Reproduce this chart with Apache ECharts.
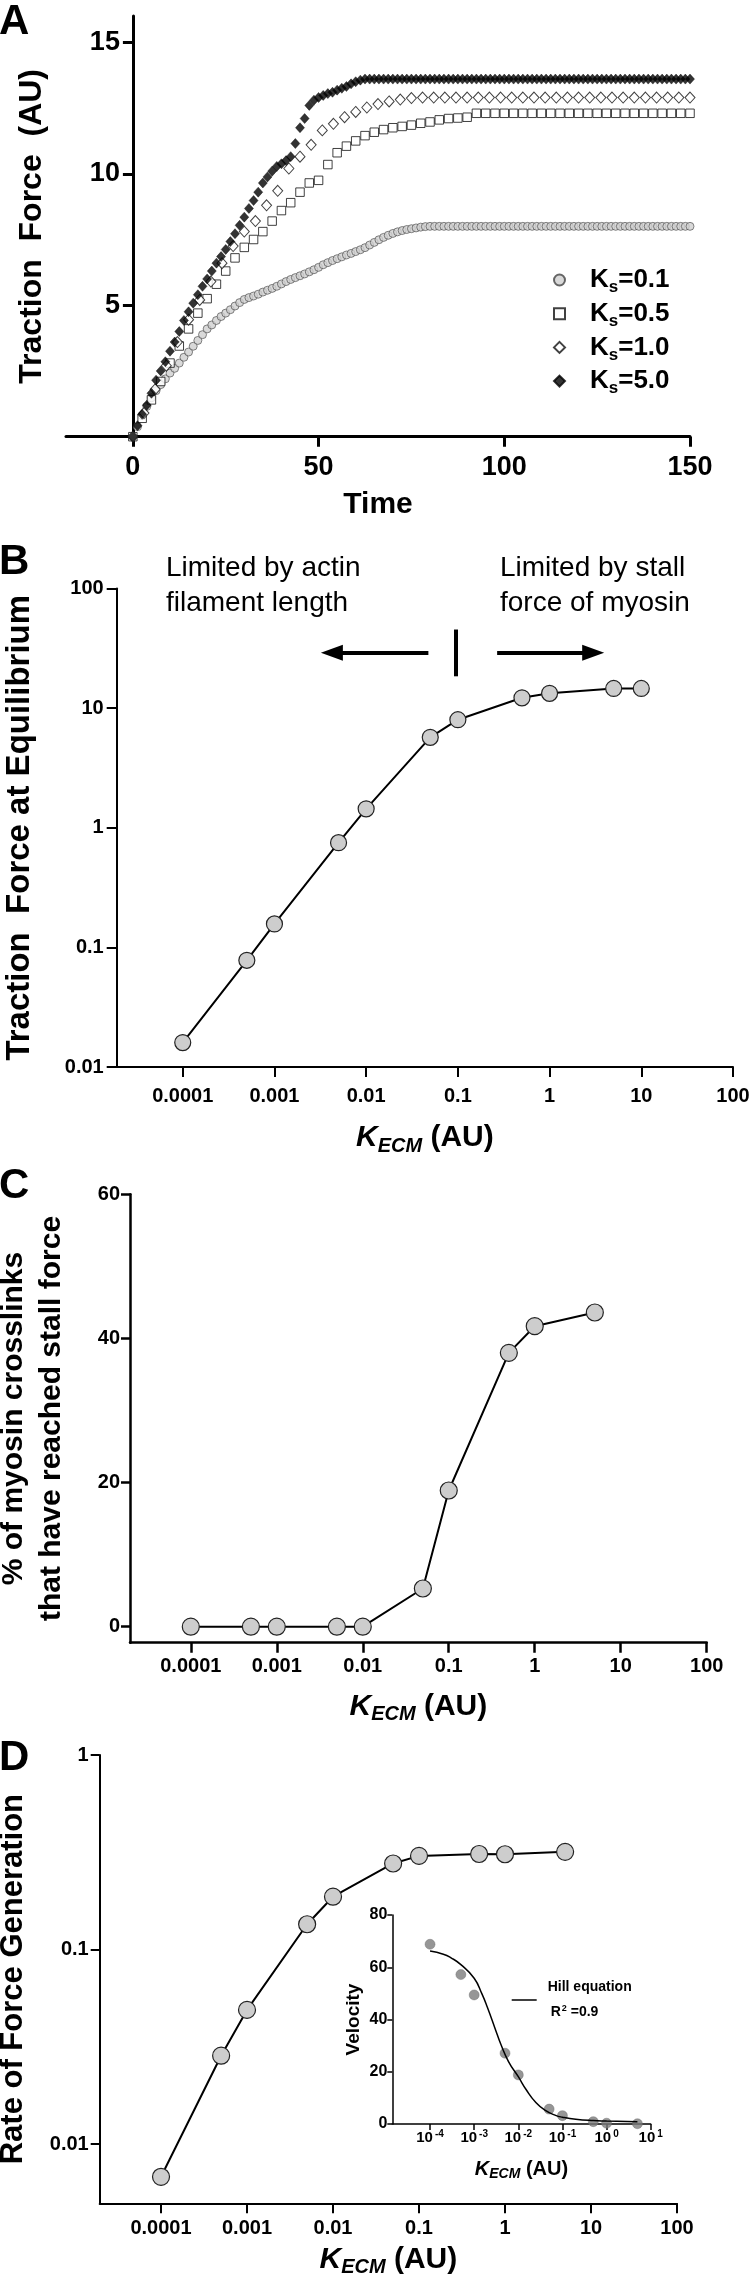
<!DOCTYPE html>
<html>
<head>
<meta charset="utf-8">
<title>Traction force figure</title>
<script src="https://cdn.jsdelivr.net/npm/echarts@6.0.0/dist/echarts.min.js"></script>
<style>
html,body{margin:0;padding:0;background:#fff;}
#chart{width:752px;height:2283px;}
</style>
</head>
<body>
<div id="chart"></div>
<script>
// ---------------- Panel A: traction force vs time ----------------
const timeStep125 = [0,1.25,2.5,3.75,5,6.25,7.5,8.75,10,11.25,12.5,13.75,15,16.25,17.5,18.75,20,21.25,22.5,23.75,25,26.25,27.5,28.75,30,31.25,32.5,33.75,35,36.25,37.5,38.75,40,41.25,42.5,43.75,45,46.25,47.5,48.75,50,51.25,52.5,53.75,55,56.25,57.5,58.75,60,61.25,62.5,63.75,65,66.25,67.5,68.75,70,71.25,72.5,73.75,75,76.25,77.5,78.75,80,81.25,82.5,83.75,85,86.25,87.5,88.75,90,91.25,92.5,93.75,95,96.25,97.5,98.75,100,101.25,102.5,103.75,105,106.25,107.5,108.75,110,111.25,112.5,113.75,115,116.25,117.5,118.75,120,121.25,122.5,123.75,125,126.25,127.5,128.75,130,131.25,132.5,133.75,135,136.25,137.5,138.75,140,141.25,142.5,143.75,145,146.25,147.5,148.75,150];
const timeStep25 = [0,2.5,5,7.5,10,12.5,15,17.5,20,22.5,25,27.5,30,32.5,35,37.5,40,42.5,45,47.5,50,52.5,55,57.5,60,62.5,65,67.5,70,72.5,75,77.5,80,82.5,85,87.5,90,92.5,95,97.5,100,102.5,105,107.5,110,112.5,115,117.5,120,122.5,125,127.5,130,132.5,135,137.5,140,142.5,145,147.5,150];
const timeStep3 = [0,3,6,9,12,15,18,21,24,27,30,33,36,39,42,45,48,51,54,57,60,63,66,69,72,75,78,81,84,87,90,93,96,99,102,105,108,111,114,117,120,123,126,129,132,135,138,141,144,147,150];

const forceKs01 = [0,0.38,0.8,1.15,1.48,1.75,1.98,2.2,2.42,2.6,2.8,3.02,3.22,3.44,3.66,3.88,4.1,4.25,4.42,4.57,4.7,4.83,4.97,5.1,5.22,5.29,5.35,5.42,5.5,5.57,5.64,5.72,5.81,5.9,5.98,6.05,6.12,6.19,6.27,6.35,6.44,6.54,6.62,6.7,6.77,6.84,6.91,6.97,7.04,7.11,7.19,7.29,7.39,7.49,7.58,7.66,7.73,7.79,7.84,7.88,7.91,7.94,7.97,7.99,
  8,8,8,8,8,8,8,8,8,8,8,8,8,8,8,8,8,8,8,8,8,8,8,8,8,8,8,8,8,8,8,8,8,8,8,8,8,8,8,8,8,8,8,8,8,8,8,8,8,8,8,8,8,8,8,8,8];
const forceKs05 = [0,0.7,1.4,2.1,2.8,3.45,4.1,4.7,5.25,5.8,6.3,6.8,7.2,7.5,7.8,8.2,8.6,8.9,9.3,9.65,9.75,10.35,10.8,11.05,11.25,11.45,11.58,11.68,11.75,11.8,11.85,11.92,11.97,12.05,12.1,12.12,12.15,
  12.3,12.3,12.3,12.3,12.3,12.3,12.3,12.3,12.3,12.3,12.3,12.3,
  12.3,12.3,12.3,12.3,12.3,12.3,12.3,12.3,12.3,12.3,12.3,12.3];
const forceKs10 = [0,0.9,1.8,2.7,3.6,4.45,5.2,5.9,6.6,7.25,7.8,8.2,8.8,9.35,10.2,10.65,11.1,11.65,11.9,12.15,12.35,12.52,12.65,12.75,12.82,12.88,
  12.9,12.9,12.9,12.9,12.9,12.9,12.9,12.9,12.9,12.9,12.9,12.9,12.9,
  12.9,12.9,12.9,12.9,12.9,12.9,12.9,12.9,12.9,12.9,12.9,12.9];
const forceKs50 = [0,0.42,0.85,1.2,1.65,2.15,2.5,2.85,3.25,3.6,4.0,4.42,4.75,5.08,5.4,5.72,6.0,6.3,6.6,6.85,7.12,7.42,7.72,8.04,8.35,8.68,8.98,9.3,9.65,9.88,10.1,10.28,10.38,10.5,10.65,11.15,11.75,12.1,12.6,12.8,12.9,12.98,13.05,13.1,13.18,13.25,13.32,13.42,13.5,13.56,13.6,
  13.6,13.6,13.6,13.6,13.6,13.6,13.6,13.6,13.6,13.6,
  13.6,13.6,13.6,13.6,13.6,13.6,13.6,13.6,13.6,13.6,
  13.6,13.6,13.6,13.6,13.6,13.6,13.6,13.6,13.6,13.6,
  13.6,13.6,13.6,13.6,13.6,13.6,13.6,13.6,13.6,13.6,
  13.6,13.6,13.6,13.6,13.6,13.6,13.6,13.6,13.6,13.6,
  13.6,13.6,13.6,13.6,13.6,13.6,13.6,13.6,13.6,13.6,
  13.6,13.6,13.6,13.6,13.6,13.6,13.6,13.6,13.6,13.6];
const seriesNamesA = ['Ks=0.1','Ks=0.5','Ks=1.0','Ks=5.0'];
const ticksTime = [0,50,100,150];
const ticksForceA = [5,10,15];

// ---------------- Panel B: force at equilibrium ----------------
const kecmB = [0.0001,0.0005,0.001,0.005,0.01,0.05,0.1,0.5,1,5,10];
const forceEqB = [0.016,0.078,0.157,0.75,1.44,5.7,8.0,12.2,13.3,14.6,14.6];
const ticksKecm = [0.0001,0.001,0.01,0.1,1,10,100];
const ticksForceB = [0.01,0.1,1,10,100];

// ---------------- Panel C: % crosslinks at stall ----------------
const kecmC = [0.0001,0.0005,0.001,0.005,0.01,0.05,0.1,0.5,1,5];
const stallPctC = [0,0,0,0,0,5.3,18.9,38,41.7,43.6];
const ticksPctC = [0,20,40,60];

// ---------------- Panel D: rate of force generation ----------------
const kecmD = [0.0001,0.0005,0.001,0.005,0.01,0.05,0.1,0.5,1,5];
const rateD = [0.0068,0.0285,0.049,0.135,0.187,0.277,0.303,0.31,0.309,0.318];
const ticksRateD = [0.01,0.1,1];

// ---------------- Panel D inset: velocity ----------------
const kecmInset = [0.0001,0.0005,0.001,0.005,0.01,0.05,0.1,0.5,1,5];
const velocityInset = [68.8,57.2,49.4,27.1,18.8,5.7,3.2,0.9,0.3,0.1];
const kecmHill = [0.0001,0.0002,0.0003,0.0005,0.001,0.0015,0.002,0.003,0.004,0.006,0.01,0.015,0.025,0.04,0.07,0.1,0.2,0.5,1,5];
const velocityHill = [66.2,65.0,63.6,61.0,55.8,49.8,44.6,36.4,30.6,23.9,18.1,13.2,8.2,5.3,3.3,2.6,1.8,1.3,1.15,0.9];
const ticksKecmInset = [0.0001,0.001,0.01,0.1,1,10];

// ---------------- helpers ----------------
const FONT = "'Liberation Sans', Arial, Helvetica, sans-serif";
const BLACK = '#000';
const pairs = (xs, ys) => xs.map((x, i) => [x, ys[i]]);
function decimalLabel(v) {
  const e = Math.round(Math.log10(v));
  return e < 0 ? Math.pow(10, e).toFixed(-e) : String(Math.round(Math.pow(10, e)));
}
function powerLabel(v) {
  const e = Math.round(Math.log10(v));
  return '{b|10}{s|' + e + '}';
}
function kecmRich(big, small, lh) {
  return {
    k: {fontSize: big, fontWeight: 'bold', fontStyle: 'italic', lineHeight: lh, fontFamily: FONT, color: BLACK},
    e: {fontSize: small, fontWeight: 'bold', fontStyle: 'italic', lineHeight: small, verticalAlign: 'bottom', fontFamily: FONT, color: BLACK},
    u: {fontSize: big, fontWeight: 'bold', lineHeight: lh, fontFamily: FONT, color: BLACK}
  };
}
const KECM_NAME = '{k|K}{e|ECM}{u| (AU)}';
function axis(o) {
  const lw = o.lineWidth, tl = o.tickLen;
  const a = {
    gridIndex: o.grid, type: o.type, min: o.min, max: o.max,
    name: o.name, nameLocation: 'middle', nameGap: o.nameGap, nameMoveOverlap: false,
    nameTextStyle: o.nameTextStyle,
    axisLine: {show: true, onZero: false, lineStyle: {color: BLACK, width: lw}},
    axisTick: {show: true, length: tl, lineStyle: {color: BLACK, width: lw}},
    axisLabel: {color: BLACK, fontSize: o.fontSize, fontWeight: 'bold', fontFamily: FONT, margin: o.margin, lineHeight: o.fontSize},
    splitLine: {show: false}, minorTick: {show: false}
  };
  if (o.offset !== undefined) a.offset = o.offset;
  if (o.type === 'log') a.logBase = 10;
  if (o.ticks) { a.axisTick.customValues = o.ticks; a.axisLabel.customValues = o.ticks; }
  if (o.interval) a.interval = o.interval;
  if (o.formatter) a.axisLabel.formatter = o.formatter;
  if (o.rich) a.axisLabel.rich = o.rich;
  return a;
}
const boldName = (size, lh) => ({fontSize: size, fontWeight: 'bold', color: BLACK, fontFamily: FONT, lineHeight: lh || size});
const roundMarker = {color: '#cdcdcd', borderColor: '#222', borderWidth: 1.2};

const chart = echarts.init(document.getElementById('chart'), null, {renderer: 'canvas', width: 752, height: 2283});

const option = {
  animation: false,
  backgroundColor: '#fff',
  textStyle: {fontFamily: FONT, color: BLACK},
  grid: [
    {left: 66, right: 62, top: 16, height: 420.7, containLabel: false, outerBoundsMode: 'none'},
    {left: 116.7, right: 19, top: 588.5, height: 478.5, containLabel: false, outerBoundsMode: 'none'},
    {left: 130, right: 45.3, top: 1194.3, height: 448.4, containLabel: false, outerBoundsMode: 'none'},
    {left: 99.7, right: 75, top: 1755, height: 448.3, containLabel: false, outerBoundsMode: 'none'},
    {left: 392.3, right: 101.3, top: 1915, height: 209, containLabel: false, outerBoundsMode: 'none'}
  ],
  xAxis: [
    axis({grid: 0, type: 'value', min: -18, max: 150, ticks: ticksTime, lineWidth: 3, tickLen: 10, fontSize: 27, margin: 17,
      name: 'Time', nameGap: 53, nameTextStyle: boldName(30, 30)}),
    axis({grid: 1, type: 'log', min: Math.pow(10, -4.72), max: 100, ticks: ticksKecm, lineWidth: 2, tickLen: 10, fontSize: 20, margin: 19,
      formatter: decimalLabel, name: KECM_NAME, nameGap: 53, nameTextStyle: {rich: kecmRich(30, 20, 36)}}),
    axis({grid: 2, type: 'log', min: Math.pow(10, -4.707), max: 100, ticks: ticksKecm, lineWidth: 2.5, tickLen: 10, fontSize: 20, margin: 14,
      formatter: decimalLabel, name: KECM_NAME, nameGap: 46, nameTextStyle: {rich: kecmRich(30, 20, 36)}}),
    axis({grid: 3, type: 'log', min: Math.pow(10, -4.713), max: 100, ticks: ticksKecm, lineWidth: 2, tickLen: 10, fontSize: 20, margin: 15,
      formatter: decimalLabel, name: KECM_NAME, nameGap: 38, nameTextStyle: {rich: kecmRich(30, 20, 36)}}),
    axis({grid: 4, type: 'log', min: Math.pow(10, -4.855), max: 10, ticks: ticksKecmInset, lineWidth: 1.5, tickLen: 6, fontSize: 15, margin: 5,
      formatter: powerLabel,
      rich: {b: {fontSize: 15, fontWeight: 'bold', lineHeight: 18, fontFamily: FONT, color: BLACK},
             s: {fontSize: 10, fontWeight: 'bold', lineHeight: 10, verticalAlign: 'top', fontFamily: FONT, color: BLACK, padding: [0, 0, 0, 2]}},
      name: KECM_NAME, nameGap: 33, nameTextStyle: {rich: kecmRich(20, 14, 24)}})
  ],
  yAxis: [
    // y axis of panel A sits on time = 0, i.e. 18 time units (66.9 px) inside the grid's left edge
    axis({grid: 0, type: 'value', min: 0, max: 16, ticks: ticksForceA, offset: -66.9, lineWidth: 3, tickLen: 10, fontSize: 27, margin: 13,
      name: 'Traction  Force  (AU)', nameGap: 85, nameTextStyle: boldName(32)}),
    axis({grid: 1, type: 'log', min: 0.01, max: 100, ticks: ticksForceB, lineWidth: 2, tickLen: 10, fontSize: 20, margin: 13,
      formatter: decimalLabel, name: 'Traction  Force at Equilibrium', nameGap: 80, nameTextStyle: boldName(33)}),
    axis({grid: 2, type: 'value', min: -2.22, max: 60, ticks: ticksPctC, lineWidth: 2.5, tickLen: 9, fontSize: 20, margin: 10,
      name: '% of myosin crosslinks\nthat have reached stall force', nameGap: 59, nameTextStyle: boldName(30, 38)}),
    axis({grid: 3, type: 'log', min: 0.00497, max: 1, ticks: ticksRateD, lineWidth: 2, tickLen: 9, fontSize: 20, margin: 11,
      formatter: decimalLabel, name: 'Rate of Force Generation', nameGap: 71, nameTextStyle: boldName(31)}),
    axis({grid: 4, type: 'value', min: 0, max: 80, interval: 20, lineWidth: 1.5, tickLen: 5, fontSize: 16, margin: 5,
      name: 'Velocity', nameGap: 29, nameTextStyle: boldName(19)})
  ],
  legend: [
    {
      show: true, orient: 'vertical', left: 553, top: 267, padding: 0, itemGap: 4.7,
      itemWidth: 11, itemHeight: 11, selectedMode: false,
      data: seriesNamesA,
      formatter: n => '{k0|K}{s|s}{k|' + n.slice(2) + '}',
      textStyle: {rich: {
        k0: {fontSize: 26, fontWeight: 'bold', lineHeight: 32, fontFamily: FONT, color: BLACK, padding: [0, 0, 0, 20]},
        k: {fontSize: 26, fontWeight: 'bold', lineHeight: 32, fontFamily: FONT, color: BLACK},
        s: {fontSize: 17, fontWeight: 'bold', lineHeight: 15, verticalAlign: 'bottom', fontFamily: FONT, color: BLACK}
      }}
    },
    {
      show: true, orient: 'vertical', left: 511.7, top: 1980.5, padding: 0,
      itemWidth: 25, itemHeight: 1.5, selectedMode: false,
      data: [{name: 'Hill equation', icon: 'rect', itemStyle: {color: BLACK, borderWidth: 0}}],
      formatter: () => '{a|Hill equation}\n{r|R}{sup|2}{b| =0.9}',
      textStyle: {rich: {
        a: {fontSize: 14, fontWeight: 'bold', lineHeight: 25, fontFamily: FONT, color: BLACK, padding: [0, 0, 0, 6]},
        r: {fontSize: 14, fontWeight: 'bold', lineHeight: 25, fontFamily: FONT, color: BLACK, padding: [0, 0, 0, 9]},
        sup: {fontSize: 9, fontWeight: 'bold', lineHeight: 25, verticalAlign: 'top', fontFamily: FONT, color: BLACK, padding: [4, 0, 0, 1]},
        b: {fontSize: 14, fontWeight: 'bold', lineHeight: 25, fontFamily: FONT, color: BLACK}
      }}
    }
  ],
  series: [
    {name: 'Ks=0.1', type: 'scatter', xAxisIndex: 0, yAxisIndex: 0, data: pairs(timeStep125, forceKs01),
      symbol: 'circle', symbolSize: 8, itemStyle: {color: '#cfcfcf', borderColor: '#444', borderWidth: 0.8}},
    {name: 'Ks=0.5', type: 'scatter', xAxisIndex: 0, yAxisIndex: 0, data: pairs(timeStep25, forceKs05),
      symbol: 'rect', symbolSize: 8.5, itemStyle: {color: '#fff', borderColor: '#111', borderWidth: 1}},
    {name: 'Ks=1.0', type: 'scatter', xAxisIndex: 0, yAxisIndex: 0, data: pairs(timeStep3, forceKs10),
      symbol: 'diamond', symbolSize: [10, 11], itemStyle: {color: '#fff', borderColor: '#111', borderWidth: 1}},
    {name: 'Ks=5.0', type: 'scatter', xAxisIndex: 0, yAxisIndex: 0, data: pairs(timeStep125, forceKs50),
      symbol: 'diamond', symbolSize: [9, 10], itemStyle: {color: '#000', borderColor: '#000', borderWidth: 0.5}},

    {name: 'B', type: 'line', xAxisIndex: 1, yAxisIndex: 1, data: pairs(kecmB, forceEqB),
      symbol: 'circle', symbolSize: 16, showAllSymbol: true, z: 3,
      itemStyle: roundMarker, lineStyle: {color: BLACK, width: 2},
      markLine: {
        silent: true, symbol: ['none', 'triangle'], symbolSize: [16, 22],
        label: {show: false}, lineStyle: {color: BLACK, width: 4, type: 'solid'},
        data: [
          [{coord: [0.0477, 29]}, {coord: [0.00423, 29]}],
          [{coord: [0.095, 45.4], symbol: 'none'}, {coord: [0.095, 18.45], symbol: 'none'}],
          [{coord: [0.268, 29]}, {coord: [2.99, 29]}]
        ]
      }},
    {name: 'C', type: 'line', xAxisIndex: 2, yAxisIndex: 2, data: pairs(kecmC, stallPctC),
      symbol: 'circle', symbolSize: 17, showAllSymbol: true,
      itemStyle: roundMarker, lineStyle: {color: BLACK, width: 2}},
    {name: 'D', type: 'line', xAxisIndex: 3, yAxisIndex: 3, data: pairs(kecmD, rateD),
      symbol: 'circle', symbolSize: 17, showAllSymbol: true,
      itemStyle: roundMarker, lineStyle: {color: BLACK, width: 2}},
    {name: 'Hill equation', type: 'line', xAxisIndex: 4, yAxisIndex: 4, data: pairs(kecmHill, velocityHill),
      smooth: true, symbol: 'none', lineStyle: {color: BLACK, width: 1.5}, itemStyle: {color: BLACK}},
    {name: 'Velocity data', type: 'scatter', xAxisIndex: 4, yAxisIndex: 4, data: pairs(kecmInset, velocityInset),
      symbol: 'circle', symbolSize: 10, itemStyle: {color: '#7c7c7c', borderColor: '#6a6a6a', borderWidth: 0.5}}
  ],
  graphic: [
    {type: 'text', x: -1, y: 22, style: {text: 'A', font: 'bold 42px ' + FONT, fill: BLACK, align: 'left', verticalAlign: 'middle'}},
    {type: 'text', x: -1, y: 562, style: {text: 'B', font: 'bold 42px ' + FONT, fill: BLACK, align: 'left', verticalAlign: 'middle'}},
    {type: 'text', x: -1, y: 1186, style: {text: 'C', font: 'bold 42px ' + FONT, fill: BLACK, align: 'left', verticalAlign: 'middle'}},
    {type: 'text', x: -1, y: 1758.5, style: {text: 'D', font: 'bold 42px ' + FONT, fill: BLACK, align: 'left', verticalAlign: 'middle'}},
    {type: 'text', x: 166, y: 586, style: {text: 'Limited by actin\nfilament length', font: '28px ' + FONT, lineHeight: 35, fill: BLACK, align: 'left', verticalAlign: 'middle'}},
    {type: 'text', x: 500, y: 586, style: {text: 'Limited by stall\nforce of myosin', font: '28px ' + FONT, lineHeight: 35, fill: BLACK, align: 'left', verticalAlign: 'middle'}}
  ]
};
chart.setOption(option);
</script>
</body>
</html>
